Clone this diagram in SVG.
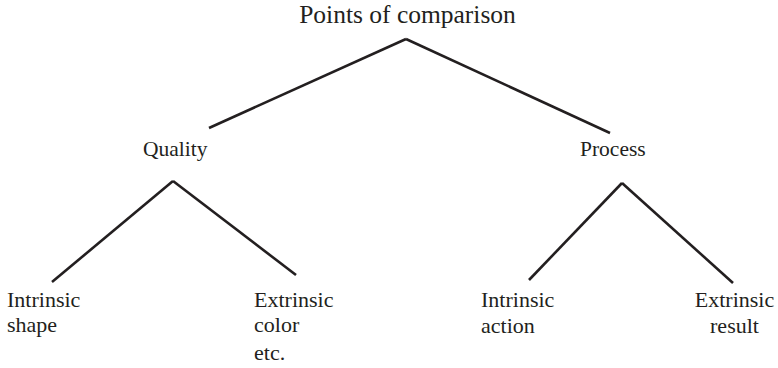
<svg xmlns="http://www.w3.org/2000/svg" width="778" height="368" viewBox="0 0 778 368">
<style>
text{font-family:'Liberation Serif','DejaVu Serif','Noto Serif',Times,serif;fill:#231f20}
.t{font-size:25.5px}
.m{font-size:21.5px}
.s{font-size:22px}
.c line{stroke:#231f20;stroke-width:2.6;stroke-linecap:butt}
</style>
<rect width="778" height="368" fill="#fff"/>
<g class="c" id="connectors">
<line x1="209" y1="128" x2="406" y2="39"/>
<line x1="406" y1="39" x2="610" y2="133"/>
<line x1="52" y1="282" x2="173" y2="181"/>
<line x1="173" y1="181" x2="296" y2="275"/>
<line x1="529" y1="280" x2="622" y2="183"/>
<line x1="622" y1="183" x2="733" y2="283"/>
</g>
<g id="root"><text class="t" x="407.5" y="23" text-anchor="middle" font-family="Liberation Serif, serif">Points of comparison</text></g>
<g id="quality"><text class="m" x="143" y="156">Quality</text></g>
<g id="process"><text class="m" x="580" y="156">Process</text></g>
<g id="q-intrinsic"><text class="s" x="7" y="306.5">Intrinsic</text><text class="s" x="7" y="331.5">shape</text></g>
<g id="q-extrinsic"><text class="s" x="254" y="306.5">Extrinsic</text><text class="s" x="254" y="331.5">color</text><text class="s" x="254" y="360">etc.</text></g>
<g id="p-intrinsic"><text class="s" x="481" y="306.5">Intrinsic</text><text class="s" x="481" y="332.5">action</text></g>
<g id="p-extrinsic"><text class="s" x="734.5" y="306.5" text-anchor="middle">Extrinsic</text><text class="s" x="734.5" y="332.5" text-anchor="middle">result</text></g>
</svg>
